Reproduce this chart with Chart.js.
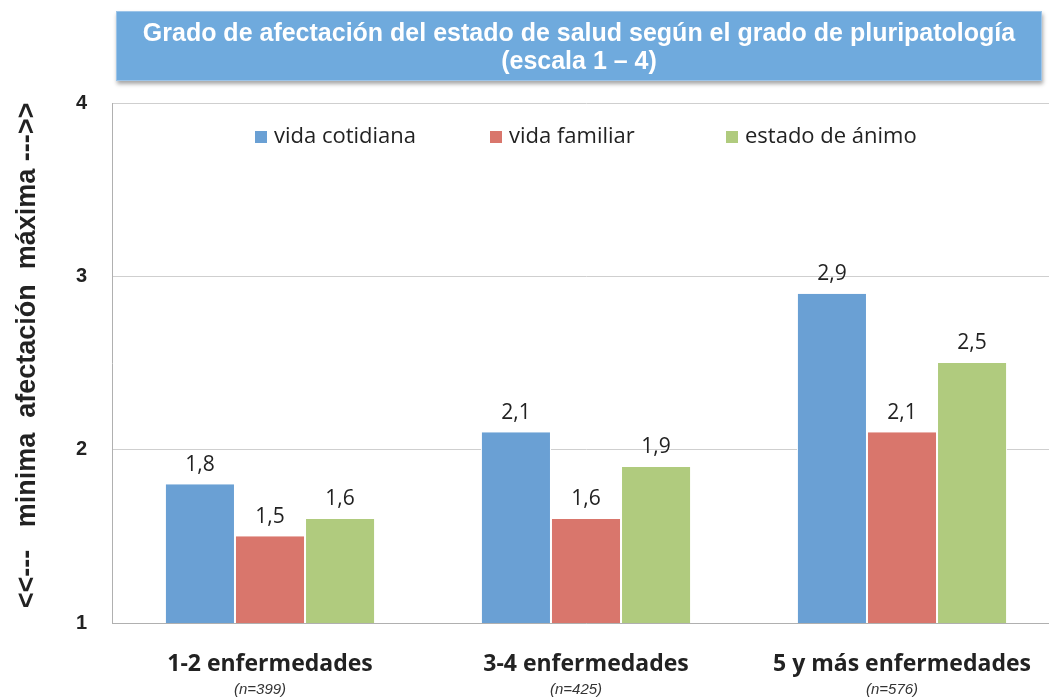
<!DOCTYPE html>
<html lang="es">
<head>
  <meta charset="UTF-8">
  <title>Grado de afectación del estado de salud</title>
  <script src="https://cdn.jsdelivr.net/npm/chart.js"></script>
  <style>
    html, body { margin: 0; padding: 0; background: #fff; overflow: hidden; }
    .wrap { position: relative; width: 1049px; height: 700px; overflow: hidden; }
    .title-box {
      position: absolute; left: 116px; top: 11px; width: 926px; height: 70px;
      background: #6faadd; border: 1px solid #9cc4e8;
      box-shadow: 1px 3px 4px rgba(0,0,0,0.35);
      color: #fff; font: bold 25px "Liberation Sans Narrow", "Liberation Sans", Arial, sans-serif;
      text-align: center; line-height: 28px; padding-top: 6px; box-sizing: border-box;
    }
    canvas { position: absolute; left: 0; top: 0; }
  </style>
</head>
<body>
<div class="wrap">
  <canvas id="chart" width="1060" height="700"></canvas>
  <div class="title-box">Grado de afectación del estado de salud según el grado de pluripatología<br>(escala 1 – 4)</div>
</div>

<script>
  // data
  const categories = ['1-2 enfermedades', '3-4 enfermedades', '5 y más enfermedades'];
  const sampleSizes = ['(n=399)', '(n=425)', '(n=576)'];
  const seriesNames = ['vida cotidiana', 'vida familiar', 'estado de ánimo'];
  const vidaCotidiana = [1.8, 2.1, 2.9];
  const vidaFamiliar = [1.5, 1.6, 2.1];
  const estadoAnimo = [1.6, 1.9, 2.5];
  const yTicks = [1, 2, 3, 4];

  const colors = ['#6aa0d4', '#d9766c', '#b0cb7e'];

  // values above bars, comma decimals
  const valueLabels = {
    id: 'valueLabels',
    afterDatasetsDraw(chart) {
      const ctx = chart.ctx;
      ctx.save();
      ctx.font = '21px "Open Sans", sans-serif';
      ctx.fillStyle = '#222';
      ctx.textAlign = 'center';
      ctx.textBaseline = 'bottom';
      chart.data.datasets.forEach((ds, i) => {
        chart.getDatasetMeta(i).data.forEach((bar, j) => {
          ctx.fillText(ds.data[j].toFixed(1).replace('.', ','), bar.x, bar.y - 9);
        });
      });
      ctx.restore();
    }
  };

  // legend inside the plot area, and (n=...) under the categories
  const extras = {
    id: 'extras',
    afterDraw(chart) {
      const ctx = chart.ctx;
      const area = chart.chartArea;
      ctx.save();
      ctx.font = '22px "Open Sans", sans-serif';
      ctx.textBaseline = 'middle';
      const starts = [255, 490, 726];
      const box = 12, boxGap = 7;
      const y = area.top + 34;
      chart.data.datasets.forEach((ds, i) => {
        const x = starts[i];
        ctx.fillStyle = ds.backgroundColor;
        ctx.fillRect(x, y - box / 2, box, box);
        ctx.fillStyle = '#222';
        ctx.textAlign = 'left';
        ctx.fillText(ds.label, x + box + boxGap, y);
      });

      const xs = chart.scales.x;
      ctx.font = 'italic 15px "Liberation Sans Narrow", "Liberation Sans", Arial, sans-serif';
      ctx.fillStyle = '#333';
      ctx.textAlign = 'center';
      sampleSizes.forEach((s, i) => {
        ctx.fillText(s, xs.getPixelForValue(i) - 10, 690);
      });
      ctx.restore();
    }
  };

  new Chart(document.getElementById('chart'), {
    type: 'bar',
    data: {
      labels: categories,
      datasets: [
        { label: seriesNames[0], data: vidaCotidiana, backgroundColor: colors[0] },
        { label: seriesNames[1], data: vidaFamiliar, backgroundColor: colors[1] },
        { label: seriesNames[2], data: estadoAnimo, backgroundColor: colors[2] }
      ]
    },
    options: {
      responsive: false,
      animation: false,
      layout: { padding: { top: 103, right: 0, left: 0, bottom: 0 } },
      datasets: {
        bar: {
          categoryPercentage: 0.665,
          barPercentage: 1.0,
          borderColor: '#fff',
          borderWidth: { left: 1, right: 1 },
          borderSkipped: false
        }
      },
      plugins: {
        legend: { display: false },
        tooltip: { enabled: false }
      },
      scales: {
        x: {
          grid: { display: false },
          border: { display: true, color: '#b0b0b0' },
          ticks: {
            color: '#222',
            padding: 20,
            font: { family: '"Open Sans", sans-serif', size: 23, weight: 'bold' }
          },
          afterFit(scale) { scale.height = 77; }
        },
        y: {
          min: 1,
          max: 4,
          afterBuildTicks(scale) { scale.ticks = yTicks.map(v => ({ value: v })); },
          grid: { color: '#cfcfcf', drawTicks: false },
          border: { display: true, color: '#b0b0b0' },
          ticks: {
            color: '#222',
            padding: 25,
            font: { family: '"Liberation Sans", Arial, sans-serif', size: 20, weight: 'bold' }
          },
          title: {
            display: true,
            text: '  <<---   minima  afectación  máxima --->>',
            color: '#222',
            padding: { top: 11, bottom: 0 },
            font: { family: '"Liberation Sans Narrow", "Liberation Sans", Arial, sans-serif', size: 27, weight: 'bold' }
          },
          afterFit(scale) { scale.width = 112; }
        }
      }
    },
    plugins: [valueLabels, extras]
  });
</script>
</body>
</html>
